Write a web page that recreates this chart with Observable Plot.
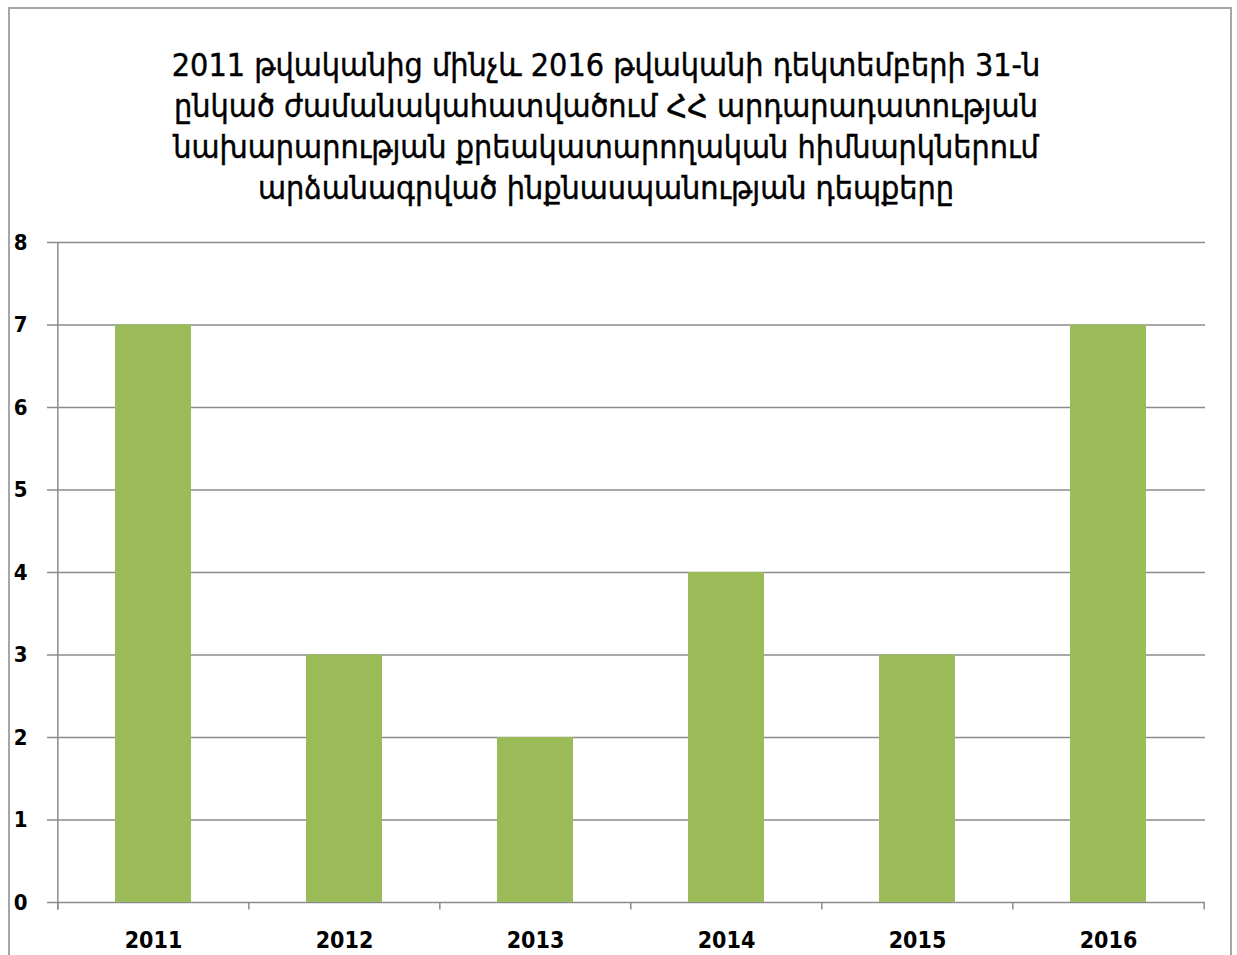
<!DOCTYPE html>
<html>
<head>
<meta charset="utf-8">
<script src="https://cdn.jsdelivr.net/npm/d3@7"></script>
<script src="https://cdn.jsdelivr.net/npm/@observablehq/plot@0.6"></script>
<style>
  html, body { margin: 0; padding: 0; background: #fff; overflow: hidden; width: 1237px; height: 955px; }
  #frame { position: absolute; left: 8px; top: 7px; width: 1224px; height: 1000px; border: 2px solid #a6a6a6; box-sizing: border-box; }
  #title { position: absolute; left: 0; top: 45px; width: 1212px; text-align: center;
           font-family: "DejaVu Sans Condensed", "DejaVu Sans", sans-serif; font-size: 32px; line-height: 41px; color: #000;
           -webkit-text-stroke: 0.4px #000; }
  #title div { display: block; white-space: nowrap; }
  #chart { position: absolute; left: 0; top: 0; }
</style>
</head>
<body>
<div id="frame"></div>
<div id="chart"></div>
<div id="title"></div>
<script>
const years = ["2011", "2012", "2013", "2014", "2015", "2016"];
const cases = [7, 3, 2, 4, 3, 7];
const yTicks = [0, 1, 2, 3, 4, 5, 6, 7, 8];
const titleLines = [
  "2011 թվականից մինչև 2016 թվականի դեկտեմբերի 31-ն",
  "ընկած ժամանակահատվածում ՀՀ արդարադատության",
  "նախարարության քրեակատարողական հիմնարկներում",
  "արձանագրված ինքնասպանության դեպքերը"
];

const data = years.map((y, i) => ({year: y, value: cases[i]}));

const W = 1237, H = 955, mL = 57, mR = 32, mT = 242, mB = 53;
const step = (W - mL - mR) / years.length;
const grid = "#8c8c8c";
const labelFont = "'DejaVu Sans Condensed', 'DejaVu Sans', sans-serif";

const chart = Plot.plot({
  width: W, height: H,
  marginLeft: mL, marginRight: mR, marginTop: mT, marginBottom: mB,
  x: {domain: years, paddingInner: 0.6, paddingOuter: 0.3, axis: null},
  y: {domain: [0, 8], axis: null},
  marks: [
    Plot.ruleY(yTicks, {stroke: grid, strokeWidth: 1.5}),
    Plot.barY(data, {x: "year", y: "value", fill: "#9bbb59"}),
    Plot.ruleX(years, {x: d => d, dx: -step / 2, y1: 0, y2: -0.09, stroke: grid, strokeWidth: 1.5}),
    Plot.ruleX([years[years.length - 1]], {x: d => d, dx: step / 2, y1: 0, y2: -0.09, stroke: grid, strokeWidth: 1.5}),
    Plot.ruleX([years[0]], {x: d => d, dx: -step / 2, y1: -0.09, y2: 8, stroke: grid, strokeWidth: 1.5}),
    Plot.axisY({ticks: yTicks, tickSize: 10, tickPadding: 20, stroke: grid, strokeWidth: 1.5, label: null,
                fontSize: 22, fontWeight: "bold", fontFamily: labelFont, fill: "#000"}),
    Plot.axisX({tickSize: 0, tickPadding: 29, fontSize: 23, fontWeight: "bold", label: null,
                fontFamily: labelFont, fill: "#000"})
  ]
});
document.getElementById("chart").appendChild(chart);

const t = document.getElementById("title");
titleLines.forEach(s => { const d = document.createElement("div"); d.textContent = s; t.appendChild(d); });
</script>
</body>
</html>
